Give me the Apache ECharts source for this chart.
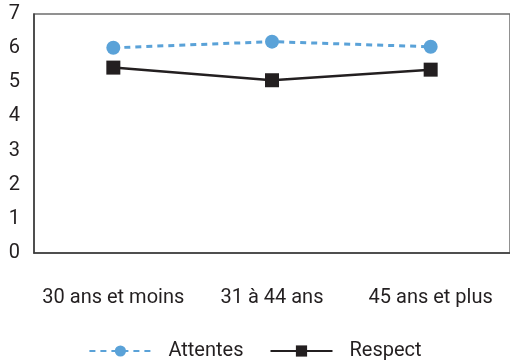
<!DOCTYPE html>
<html>
<head>
<meta charset="utf-8">
<style>
  html, body { margin: 0; padding: 0; background: #ffffff; }
  #chart { width: 510px; height: 362px; }
</style>
<script src="https://cdn.jsdelivr.net/npm/echarts@6/dist/echarts.min.js"></script>
</head>
<body>
<div id="chart"></div>
<script>
// Age groups on the x axis
const categories = ['30 ans et moins', '31 à 44 ans', '45 ans et plus'];
// Mean scores per age group
const attentes = [6.01, 6.19, 6.04];
const respect = [5.43, 5.06, 5.37];
// Y axis range
const yTicks = [0, 1, 2, 3, 4, 5, 6, 7];

const textColor = '#231f20';
const fontFamily = 'Roboto, sans-serif';

const chart = echarts.init(document.getElementById('chart'), null, { renderer: 'canvas' });

chart.setOption({
  animation: false,
  backgroundColor: '#ffffff',
  textStyle: { fontFamily: fontFamily, color: textColor },
  grid: {
    left: 34,
    top: 14,
    right: -6,
    bottom: 109,
    show: true,
    borderColor: '#6d6d6d',
    borderWidth: 1.5,
    backgroundColor: 'transparent'
  },
  legend: {
    bottom: -4,
    left: 'center',
    itemWidth: 62,
    itemHeight: 14,
    itemGap: 26,
    textStyle: { fontFamily: fontFamily, fontSize: 20, color: textColor, padding: [0, 0, 0, 12] },
    data: ['Attentes', 'Respect']
  },
  xAxis: {
    type: 'category',
    data: categories,
    boundaryGap: true,
    axisLine: { show: true, lineStyle: { color: '#3a3a3a', width: 1.5 } },
    axisTick: { show: false },
    splitLine: { show: false },
    axisLabel: {
      margin: 35,
      fontSize: 20,
      color: textColor,
      fontFamily: fontFamily,
      interval: 0
    }
  },
  yAxis: {
    type: 'value',
    min: yTicks[0],
    max: yTicks[yTicks.length - 1],
    interval: 1,
    axisLine: { show: true, lineStyle: { color: '#3a3a3a', width: 1.5 } },
    axisTick: { show: false },
    splitLine: { show: false },
    axisLabel: {
      margin: 14,
      fontSize: 20,
      color: textColor,
      fontFamily: fontFamily
    }
  },
  series: [
    {
      name: 'Attentes',
      type: 'line',
      data: attentes,
      symbol: 'circle',
      symbolSize: 14,
      itemStyle: { color: '#5aa2d8' },
      lineStyle: { color: '#5aa2d8', width: 3, type: [6, 5] }
    },
    {
      name: 'Respect',
      type: 'line',
      data: respect,
      symbol: 'rect',
      symbolSize: 14,
      itemStyle: { color: '#231f20' },
      lineStyle: { color: '#231f20', width: 2.5, type: 'solid' }
    }
  ]
});
</script>
</body>
</html>
